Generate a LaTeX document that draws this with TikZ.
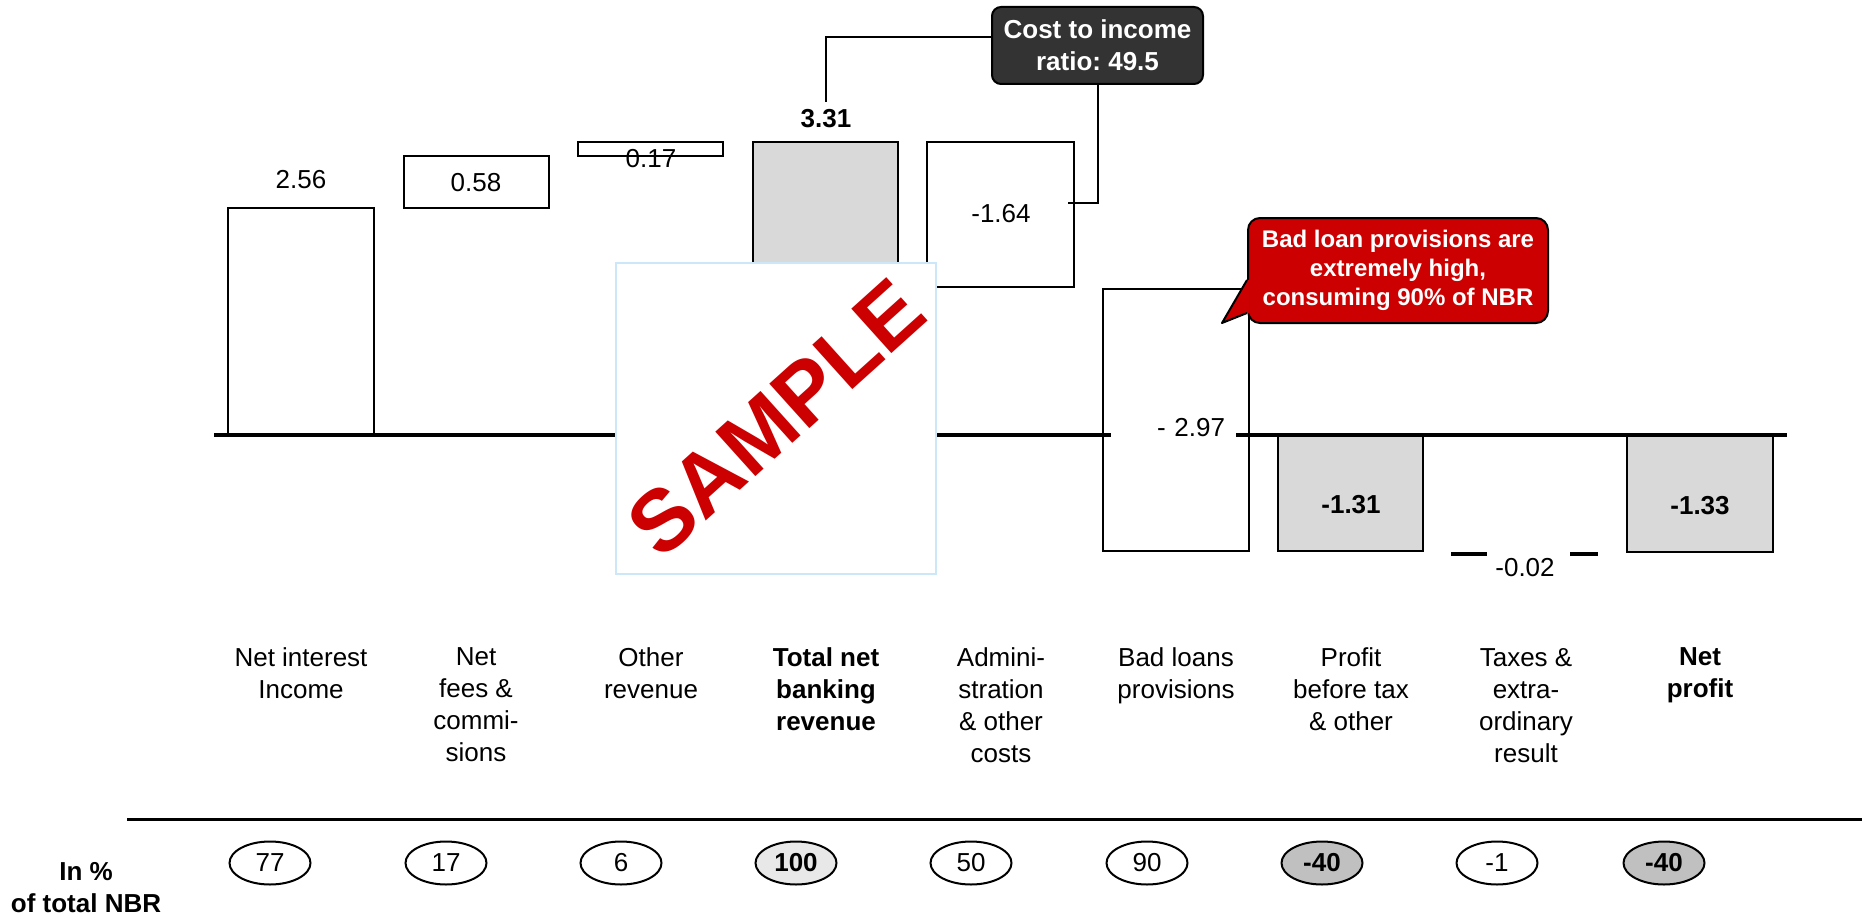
\documentclass[tikz,border=0pt]{standalone}
\usepackage{fontspec}
\setmainfont{Liberation Sans}
\frenchspacing
\usetikzlibrary{positioning,shapes.geometric,calc}
\definecolor{barfill}{HTML}{D9D9D9}
\definecolor{costgray}{HTML}{333333}
\definecolor{badred}{HTML}{CC0000}
\definecolor{markblue}{HTML}{CCE8F8}
\definecolor{ovaldark}{HTML}{C0C0C0}
\definecolor{ovallight}{HTML}{E8E8E8}

\begin{document}
\begin{tikzpicture}[x=1pt,y=-1pt,line width=2.2pt,
    every node/.style={font=\fontsize{26}{32}\selectfont},
    boldtext/.style={font=\fontsize{26}{32}\selectfont\bfseries},
    cat/.style={anchor=north,align=center,inner sep=0pt},
    oval/.style={shape=ellipse,draw,line width=2pt,minimum width=81pt,minimum height=43pt,inner sep=0pt},
    ovalplain/.style={fill=white},
    ovalmid/.style={fill=ovallight,boldtext},
    ovaldarker/.style={fill=ovaldark,boldtext}]
                    \useasboundingbox (0,0) rectangle (1862,923);
                    % bars
                    \draw[fill=white] (228,208) rectangle (374,435);
                    \draw (404,156) rectangle (549,208);
                    \draw (578,142) rectangle (723,156);
                    \draw[fill=barfill] (753,142) rectangle (898,435);
                    \draw (927,142) rectangle (1074,287);
                    \draw (1103,289) rectangle (1249,551);
                    \draw[fill=barfill] (1278,435) rectangle (1423,551);
                    \draw[line width=3.5pt] (1451,554) -- (1487,554) (1570,554) -- (1598,554);
                    \draw[fill=barfill] (1627,435) rectangle (1773,552);
                    \draw[line width=3.5pt] (214,435) -- (1787,435);
                    % values
                    \node (v1) at (301,180) {2.56};
                    \node (v2) at (476,183) {0.58};
                    \node (v3) at (651,159) {0.17};
                    \node[boldtext] (v4) at (826,119) {3.31};
                    \node (v5) at (1001,214) {-1.64};
                    \node[fill=white,inner xsep=11pt,inner ysep=3pt,text width=103pt,align=right] (v6) at (1173.5,428) {- 2.97};
                    \node[boldtext] (v7) at (1351,505) {-1.31};
                    \node (v8) at (1525,568) {-0.02};
                    \node[boldtext] (v9) at (1700,506) {-1.33};
                    % watermark
                    \node[draw=markblue,fill=white,line width=2pt,minimum width=320pt,minimum height=311pt,inner sep=0pt] (mark) at (776,418) {};
                    \node[rotate=42,text=badred,font=\fontsize{87}{87}\selectfont\bfseries] (marktext) at (mark.center) {SAMPLE};
                    % cost to income
                    \node[draw=black,fill=costgray,text=white,rounded corners=9pt,minimum width=211pt,minimum height=77pt,align=center,boldtext,line width=2pt,inner sep=0pt] (cost) at (1097.5,45.5) {Cost to income\\ratio: 49.5};
                    \coordinate (adminpt) at (1068,203);
                    \draw[line width=2pt] ([yshift=8pt]cost.west) -| ([yshift=3pt]v4.north);
                    \draw[line width=2pt] (cost.south) |- (adminpt);
                    % callout
                    \node[draw=black,fill=badred,text=white,rounded corners=12pt,minimum width=300pt,minimum height=105pt,align=center,font=\fontsize{24}{29}\selectfont\bfseries,line width=2pt,inner sep=0pt] (bad) at (1398,270.5) {Bad loan provisions are\\extremely high,\\consuming 90\% of NBR};
                    \coordinate (badtip) at (1222,323);
                    \coordinate (bada) at ($(bad.west)+(0,9.5)$);
                    \coordinate (badb) at ($(bad.south west)+(0,-11)$);
                    \fill[badred] (bada) -- (badtip) -- (badb) -- ([xshift=2.5pt]badb) -- ([xshift=2.5pt]bada) -- cycle;
                    \draw[line width=2pt,line join=round] (bada) -- (badtip) -- (badb);
                    % categories
                    \node[cat] (c1) at (301,647) {Net interest\\Income};
                    \node[cat] (c2) at (476,647) {Net\\fees \&\\commi-\\sions};
                    \node[cat] (c3) at (651,647) {Other\\revenue};
                    \node[cat,boldtext] (c4) at (826,647) {Total net\\banking\\revenue};
                    \node[cat] (c5) at (1001,647) {Admini-\\stration\\\& other\\costs};
                    \node[cat] (c6) at (1176,647) {Bad loans\\provisions};
                    \node[cat] (c7) at (1351,647) {Profit\\before tax\\\& other};
                    \node[cat] (c8) at (1526,647) {Taxes \&\\extra-\\ordinary\\result};
                    \node[cat,boldtext] (c9) at (1700,647) {Net\\profit};
                    % share of NBR
                    \draw[line width=3pt] (127,819) -- (1862,819);
                    \node[boldtext,align=center,inner sep=0pt] (share) at (86,888) {In \%\\of total NBR};
                    \foreach \v/\x/\s [count=\i] in {77/270/ovalplain,17/446/ovalplain,6/621/ovalplain,100/796/ovalmid,50/971/ovalplain,90/1147/ovalplain,-40/1322/ovaldarker,-1/1497/ovalplain,-40/1664/ovaldarker}
                        \node[oval,\s] (oval\i) at (\x,863) {\v};
                \end{tikzpicture}
\end{document}
